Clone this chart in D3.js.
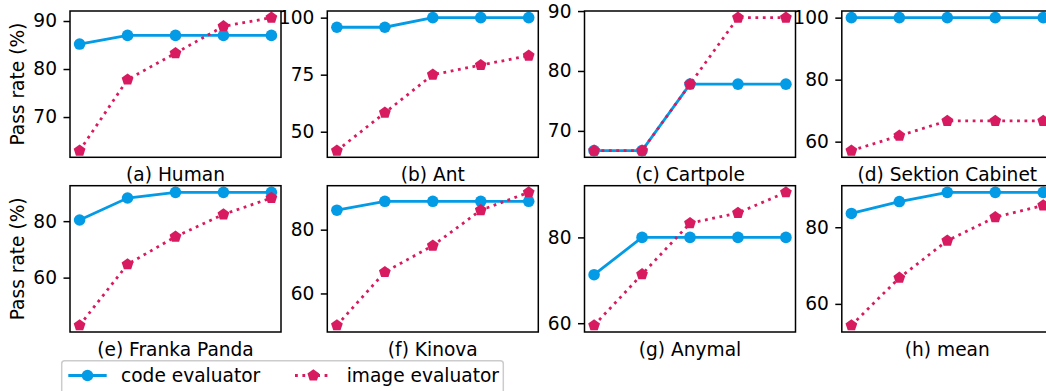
<!DOCTYPE html>
<html>
<head>
<meta charset="utf-8">
<script src="https://cdn.jsdelivr.net/npm/d3@7"></script>
<style>
    body { margin: 0; background: #fff; }
    text { font-family: "DejaVu Sans", sans-serif; fill: #000; }
</style>
</head>
<body>
<div id="chart"></div>
<script>
// Panel titles
const panelTitles = ["(a) Human", "(b) Ant", "(c) Cartpole", "(d) Sektion Cabinet",
                     "(e) Franka Panda", "(f) Kinova", "(g) Anymal", "(h) mean"];

// Five iterations on the x axis (no tick labels shown)
const iterations = [0, 1, 2, 3, 4];

// Pass rate (%) of the code evaluator, one row per panel
const codeRates = [
    [85.2, 87.0, 87.0, 87.0, 87.0],
    [95.8, 95.8, 100, 100, 100],
    [66.7, 66.7, 77.8, 77.8, 77.8],
    [100, 100, 100, 100, 100],
    [80.4, 88.2, 90.2, 90.2, 90.2],
    [86.1, 88.9, 88.9, 88.9, 88.9],
    [71.3, 80.0, 80.0, 80.0, 80.0],
    [83.6, 86.7, 89.1, 89.1, 89.1]
];

// Pass rate (%) of the image evaluator
const imageRates = [
    [63.0, 77.8, 83.3, 88.9, 90.7],
    [41.7, 58.3, 75.0, 79.2, 83.3],
    [66.7, 66.7, 77.8, 88.9, 88.9],
    [57.1, 61.9, 66.7, 66.7, 66.7],
    [43.1, 64.7, 74.5, 82.4, 88.2],
    [50.0, 66.7, 75.0, 86.1, 91.7],
    [59.5, 71.4, 83.3, 85.7, 90.5],
    [54.4, 66.8, 76.5, 82.6, 85.7]
];

// Y tick values per panel
const yTicks = [
    [70, 80, 90], [50, 75, 100], [70, 80, 90], [60, 80, 100],
    [60, 80], [60, 80], [60, 80], [60, 80]
];

const seriesNames = ["code evaluator", "image evaluator"];

function setupChart() {
    const W = 1046, H = 391;
    const blue = "#039be5";
    const pink = "#d81b60";
    const fontSize = 18.6;

    // Subplot grid
    const colLeft = [70, 327.3, 584.5, 841.8];
    const rowTop = [11, 185.7];
    const pw = 211, ph = 146.3;

    const svg = d3.select("#chart")
                  .append("svg")
                  .attr("width", W)
                  .attr("height", H);

    // Pentagon marker path
    const pentagon = d3.symbol().type({
        draw(ctx, size) {
            const r = Math.sqrt(size);
            for (let k = 0; k < 5; k++) {
                const a = -Math.PI / 2 + k * 2 * Math.PI / 5;
                const px = r * Math.cos(a), py = r * Math.sin(a);
                if (k === 0) ctx.moveTo(px, py); else ctx.lineTo(px, py);
            }
            ctx.closePath();
        }
    }).size(6.2 * 6.2);

    panelTitles.forEach((title, i) => {
        const col = i % 4, row = Math.floor(i / 4);
        const g = svg.append("g")
                     .attr("transform", `translate(${colLeft[col]},${rowTop[row]})`);

        const code = codeRates[i], image = imageRates[i];
        const all = code.concat(image);
        const lo = d3.min(all), hi = d3.max(all), pad = (hi - lo) * 0.05;

        const x = d3.scaleLinear().domain([-0.2, 4.2]).range([0, pw]);
        const y = d3.scaleLinear().domain([lo - pad, hi + pad]).range([ph, 0]);

        // Clip marks to the axes area
        g.append("clipPath").attr("id", "clip" + i)
         .append("rect").attr("width", pw).attr("height", ph);
        const plot = g.append("g").attr("clip-path", `url(#clip${i})`);

        const line = d3.line().x((d, j) => x(iterations[j])).y(d => y(d));

        // Code evaluator
        plot.append("path")
            .datum(code)
            .attr("d", line)
            .attr("fill", "none")
            .attr("stroke", blue)
            .attr("stroke-width", 2.8);
        plot.selectAll(".dot")
            .data(code)
            .join("circle")
            .attr("class", "dot")
            .attr("cx", (d, j) => x(iterations[j]))
            .attr("cy", d => y(d))
            .attr("r", 5.8)
            .attr("fill", blue);

        // Image evaluator
        plot.append("path")
            .datum(image)
            .attr("d", line)
            .attr("fill", "none")
            .attr("stroke", pink)
            .attr("stroke-width", 2.8)
            .attr("stroke-dasharray", "2.8,4.6");
        plot.selectAll(".pent")
            .data(image)
            .join("path")
            .attr("class", "pent")
            .attr("d", pentagon)
            .attr("transform", (d, j) => `translate(${x(iterations[j])},${y(d)})`)
            .attr("fill", pink);

        // Y axis
        const yAxis = g.append("g")
                       .call(d3.axisLeft(y).tickValues(yTicks[i]).tickSize(6.5).tickPadding(6.5).tickSizeOuter(0));
        yAxis.select(".domain").remove();
        yAxis.selectAll("line").attr("stroke", "#000").attr("stroke-width", 1.5);
        yAxis.selectAll("text")
             .style("font-size", fontSize + "px")
             .style("font-family", "DejaVu Sans");

        // Frame
        g.append("rect")
         .attr("width", pw)
         .attr("height", ph)
         .attr("fill", "none")
         .attr("stroke", "#000")
         .attr("stroke-width", 1.5);

        // Title below panel
        g.append("text")
         .attr("x", pw / 2)
         .attr("y", ph + 23.7)
         .attr("text-anchor", "middle")
         .style("font-size", fontSize + "px")
         .text(title);

        // Y label on the first column
        if (col === 0) {
            g.append("text")
             .attr("transform", `translate(${24 - colLeft[0]},${ph / 2}) rotate(-90)`)
             .attr("text-anchor", "middle")
             .style("font-size", fontSize + "px")
             .text("Pass rate (%)");
        }
    });

    // Legend
    const legend = svg.append("g");
    legend.append("rect")
          .attr("x", 61.7)
          .attr("y", 360.7)
          .attr("width", 441.6)
          .attr("height", 45)
          .attr("rx", 3)
          .attr("fill", "#fff")
          .attr("fill-opacity", 0.8)
          .attr("stroke", "#cccccc")
          .attr("stroke-width", 1.5);

    const ly = 375.5;
    const items = [
        {x0: 68.3, x1: 106.7, tx: 121, color: blue, dash: null, marker: "circle"},
        {x0: 295, x1: 331.7, tx: 346.7, color: pink, dash: "2.8,4.6", marker: "pent"}
    ];
    items.forEach((it, k) => {
        legend.append("line")
              .attr("x1", it.x0).attr("x2", it.x1)
              .attr("y1", ly).attr("y2", ly)
              .attr("stroke", it.color)
              .attr("stroke-width", 2.8)
              .attr("stroke-dasharray", it.dash);
        const cx = (it.x0 + it.x1) / 2;
        if (it.marker === "circle") {
            legend.append("circle").attr("cx", cx).attr("cy", ly).attr("r", 5.8).attr("fill", it.color);
        } else {
            legend.append("path").attr("d", pentagon)
                  .attr("transform", `translate(${cx},${ly})`).attr("fill", it.color);
        }
        legend.append("text")
              .attr("x", it.tx)
              .attr("y", ly + 6.8)
              .style("font-size", fontSize + "px")
              .text(seriesNames[k]);
    });
}

setupChart();
</script>
</body>
</html>
